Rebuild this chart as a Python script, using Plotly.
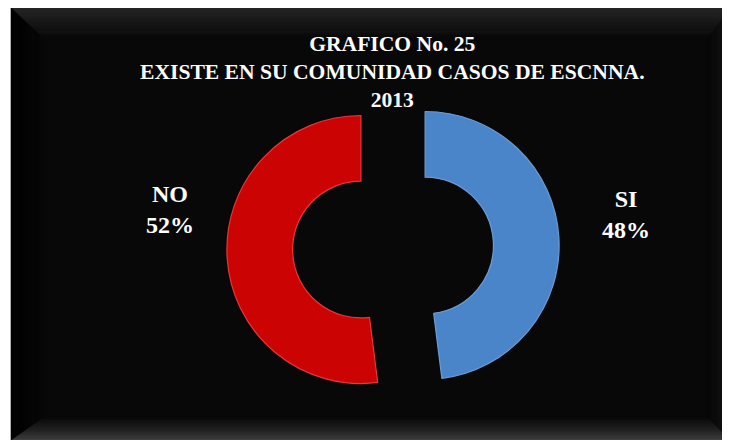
import plotly.graph_objects as go

# ---- data ----
labels = ["SI", "NO"]
values = [48, 52]
title_lines = ["GRAFICO No. 25", "EXISTE EN SU COMUNIDAD CASOS DE ESCNNA.", "2013"]

# page body has an 8px margin, so the figure occupies 8..730 x 8..440 of the window
OFF = 8
W, H = 730 - OFF, 440 - OFF
slice_colors = ["#4A85C9", "#CC0303"]
slice_edges = ["#6A9CD6", "#E23A3A"]

def px(x):
    return (x - OFF) / W

def py(y):
    return 1 - (y - OFF) / H

def hexc(c):
    return tuple(int(c[i:i + 2], 16) for i in (1, 3, 5))

def lerp(c1, c2, t):
    a, b = hexc(c1), hexc(c2)
    return "rgb(%d,%d,%d)" % tuple(round(a[i] + (b[i] - a[i]) * t) for i in range(3))

shapes = []
inner = "#080808"
shapes.append(dict(type="rect", xref="paper", yref="paper", x0=px(11), x1=px(730), y0=py(440), y1=py(8),
                   fillcolor=inner, line=dict(width=0), layer="below"))

# bevel gradient bands
L0, T0, R0, B0 = 11, 8, 730, 440
dl, dt, dr, db = 34, 32, 23, 24
N = 18

def rect_at(t):
    return (L0 + dl * t, T0 + dt * t, R0 - dr * t, B0 - db * t)

def poly(pts):
    return "M " + " L ".join("%f,%f" % (px(x), py(y)) for x, y in pts) + " Z"

side_cols = {
    "top": ("#262626", inner, 1.0),
    "bottom": ("#454545", inner, 0.7),
    "left": ("#020202", inner, 1.0),
    "right": ("#161616", inner, 1.0),
}

for k in range(N):
    t1, t2 = k / N, (k + 1) / N
    a = rect_at(t1)
    b = rect_at(t2)
    tm = (k + 0.5) / N
    pieces = {
        "top": [(a[0], a[1]), (a[2], a[1]), (b[2], b[1]), (b[0], b[1])],
        "bottom": [(a[0], a[3]), (a[2], a[3]), (b[2], b[3]), (b[0], b[3])],
        "left": [(a[0], a[1]), (b[0], b[1]), (b[0], b[3]), (a[0], a[3])],
        "right": [(a[2], a[1]), (b[2], b[1]), (b[2], b[3]), (a[2], a[3])],
    }
    for side, pts in pieces.items():
        c0, c1, g = side_cols[side]
        col = lerp(c0, c1, min(1.0, tm ** g))
        shapes.append(dict(type="path", xref="paper", yref="paper", path=poly(pts),
                           fillcolor=col, line=dict(width=0.6, color=col), layer="below"))

# pie geometry: center (393, 247.5) px in the window, outer radius ~134 px, pull 0.24
pull = 0.24
r_out = 134
half = r_out * (1 + pull)
cx, cy = 393, 247.5

fig = go.Figure()
fig.add_trace(go.Pie(
    labels=labels,
    values=values,
    hole=0.51,
    pull=[pull] * len(values),
    sort=False,
    direction="clockwise",
    rotation=0,
    textinfo="none",
    hoverinfo="label+percent",
    marker=dict(colors=slice_colors, line=dict(color=slice_edges, width=1.2)),
    domain=dict(x=[px(cx - half), px(cx + half)], y=[py(cy + half), py(cy - half)]),
    showlegend=False,
))

annotations = []
annotations.append(dict(
    text="<br>".join(title_lines), x=px(392.5), y=py(72), xref="paper", yref="paper",
    xanchor="center", yanchor="middle", showarrow=False, align="center",
    font=dict(family="Liberation Serif", size=21.6, color="white", weight="bold"),
))

total = sum(values)
label_pos = {"NO": (170, 209), "SI": (626, 214)}
for lab, val in zip(labels, values):
    x, y = label_pos[lab]
    annotations.append(dict(
        text="%s<br>%d%%" % (lab, round(100 * val / total)), x=px(x), y=py(y),
        xref="paper", yref="paper", xanchor="center", yanchor="middle",
        showarrow=False, align="center",
        font=dict(family="Liberation Serif", size=24, color="white", weight="bold"),
    ))

fig.update_layout(
    width=W, height=H,
    margin=dict(l=0, r=0, t=0, b=0),
    paper_bgcolor="white",
    plot_bgcolor="white",
    shapes=shapes,
    annotations=annotations,
)

fig.write_html("out.html")
